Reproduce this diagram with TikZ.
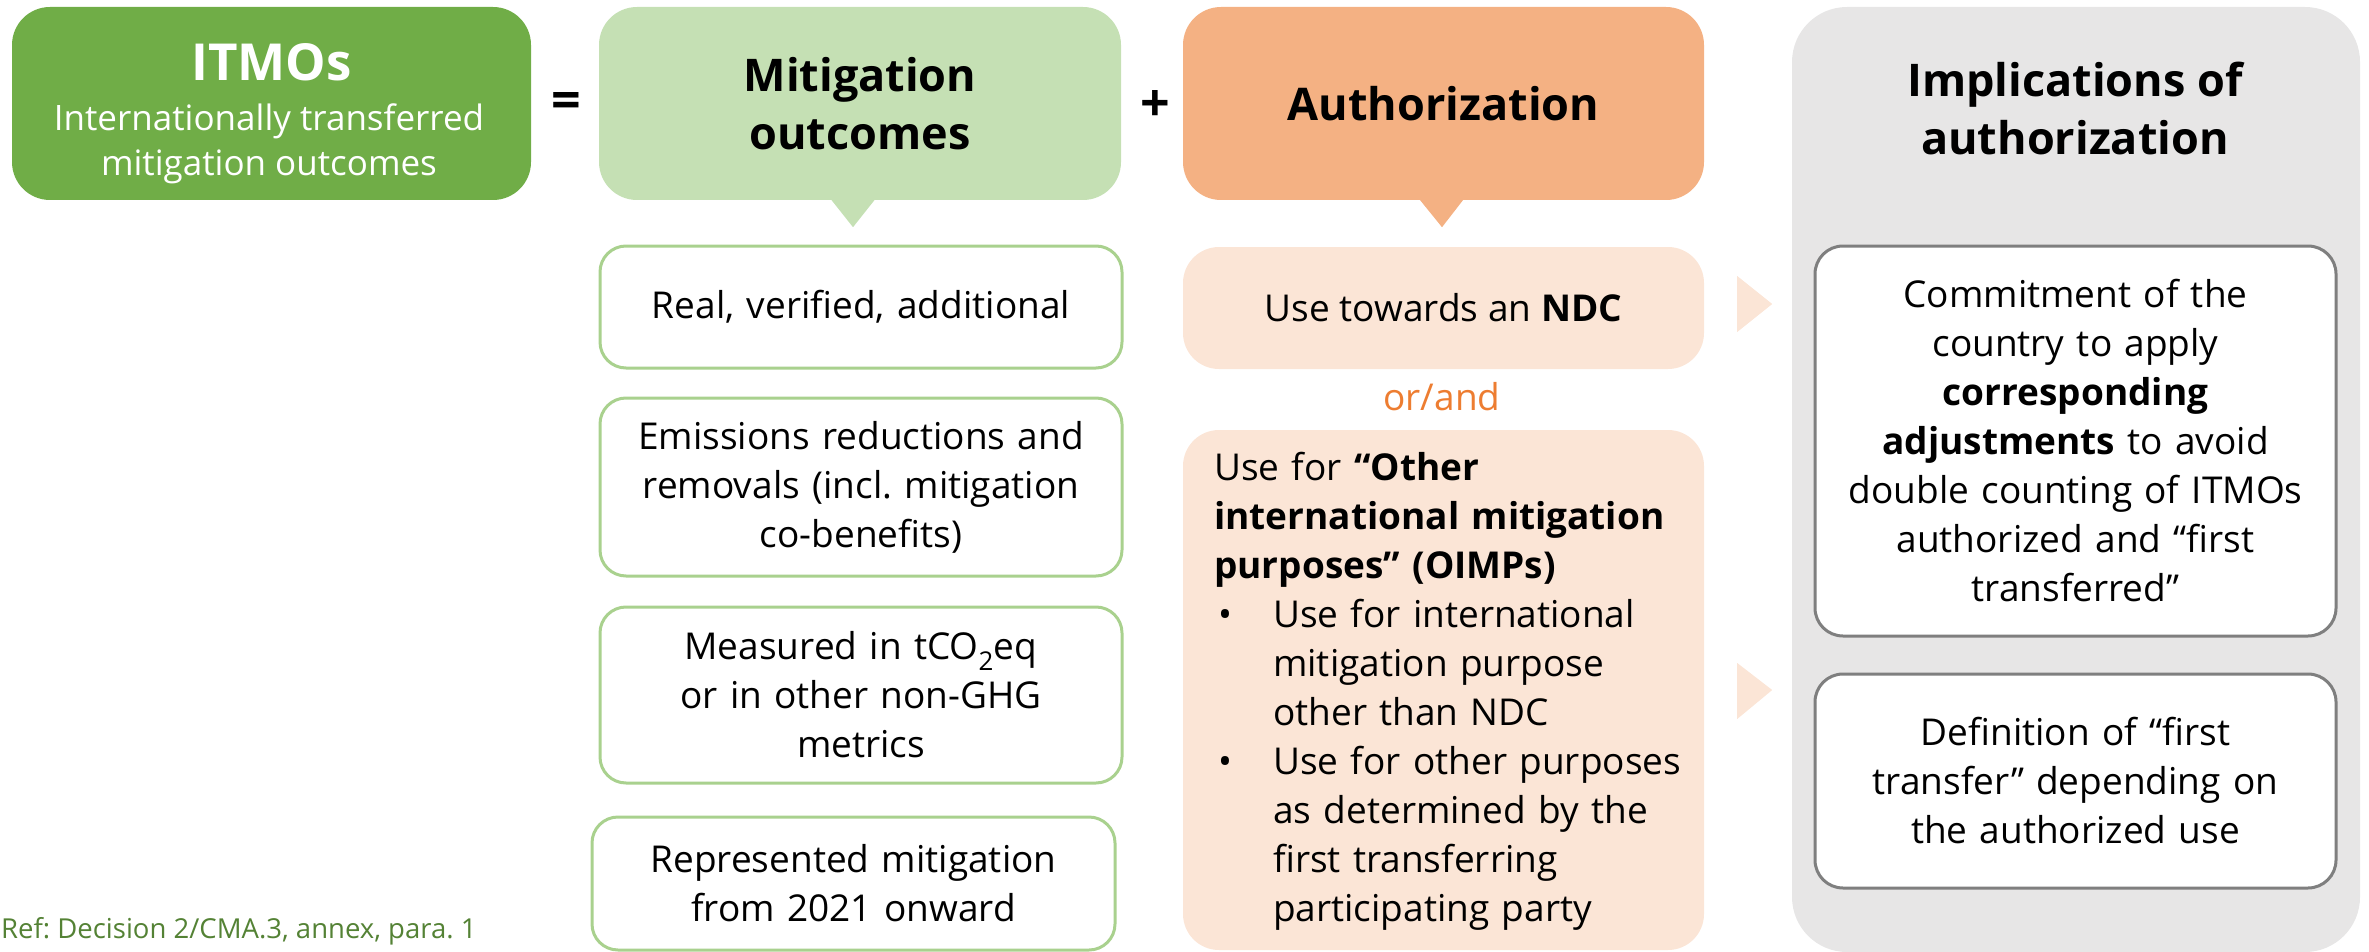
\documentclass[tikz,border=0pt]{standalone}
\usepackage{fontspec}
\setmainfont{Open Sans}
\usetikzlibrary{calc}
\frenchspacing
\definecolor{itmogreen}{HTML}{70AD47}
\definecolor{mitgreen}{HTML}{C5E0B4}
\definecolor{bordergreen}{HTML}{A9D18E}
\definecolor{authorange}{HTML}{F4B183}
\definecolor{lightorange}{HTML}{FBE5D6}
\definecolor{darkorange}{HTML}{ED7D31}
\definecolor{colgray}{HTML}{E7E6E6}
\definecolor{boxgray}{HTML}{7F7F7F}
\definecolor{refgreen}{HTML}{548235}
\newcommand{\bodyfnt}{\fontsize{37}{49}\selectfont}
\newcommand{\headfnt}{\fontsize{45}{58}\selectfont\bfseries}
\tikzset{
  topbox/.style={rectangle, rounded corners=38pt, inner sep=0pt, align=center, text=black},
  greenbox/.style={rectangle, rounded corners=26pt, draw=bordergreen, line width=3pt, fill=white, inner sep=0pt, align=center, text width=500pt, font=\bodyfnt},
  orangebox/.style={rectangle, rounded corners=36pt, fill=lightorange, inner sep=0pt},
  whitebox/.style={rectangle, rounded corners=28pt, draw=boxgray, line width=3pt, fill=white, inner sep=0pt, align=center, text width=500pt, font=\bodyfnt},
  chevron/.style={fill=lightorange}
}
\begin{document}
\begin{tikzpicture}[x=1pt,y=-1pt]
\useasboundingbox (0,0) rectangle (2369,952);
% gray column
\node[rectangle, rounded corners=55pt, fill=colgray, minimum width=568pt, minimum height=945pt, inner sep=0pt] (gray) at (2076,479.5) {};
\node[font=\headfnt, align=center] (impl) at (2075,109) {Implications of\\authorization};
% top boxes
\node[topbox, fill=itmogreen, minimum width=519pt, minimum height=193pt] (itmo) at (271.5,103.5) {};
\node[text=white, font=\fontsize{51}{60}\selectfont\bfseries] (itmotitle) at (271.5,62) {ITMOs};
\node[text=white, font=\fontsize{35}{45}\selectfont, align=center] (itmosub) at (269,144) {Internationally transferred\\mitigation outcomes};
\node[font=\fontsize{52}{60}\selectfont\bfseries] (eq) at (566,106) {=};
\node[topbox, fill=mitgreen, minimum width=522pt, minimum height=193pt, font=\headfnt] (mit) at (860,103.5) {Mitigation\\outcomes};
\fill[mitgreen] ($(mit.south)+(-30,-2)$) -- ($(mit.south)+(16,-2)$) -- ($(mit.south)+(-7,27)$) -- cycle;
\node[font=\fontsize{52}{60}\selectfont\bfseries] (plus) at (1155,106) {+};
\node[topbox, fill=authorange, minimum width=521pt, minimum height=193pt, font=\headfnt] (auth) at (1443.5,103.5) {Authorization};
\fill[authorange] ($(auth.south)+(-25,-2)$) -- ($(auth.south)+(21,-2)$) -- ($(auth.south)+(-1.5,27)$) -- cycle;
% mitigation outcome boxes
\node[greenbox, minimum width=522pt, minimum height=122pt] (real) at (861,307) {Real, verified, additional};
\node[greenbox, minimum width=522pt, minimum height=178pt] (emis) at (861,487) {Emissions reductions and\\removals (incl. mitigation\\co-benefits)};
\node[greenbox, minimum width=522pt, minimum height=176pt] (meas) at (861,695) {Measured in tCO\textsubscript{2}eq\\or in other non-GHG\\metrics};
\node[greenbox, minimum width=523pt, minimum height=133pt] (repr) at (853.5,883.5) {Represented mitigation\\from 2021 onward};
% authorization boxes
\node[orangebox, minimum width=521pt, minimum height=122pt, font=\bodyfnt] (ndc) at (1443.5,308) {Use towards an \textbf{NDC}};
\node[text=darkorange, font=\bodyfnt] (orand) at (1442,397) {or/and};
\node[orangebox, minimum width=521pt, minimum height=520pt] (oimp) at (1443.5,690) {};
\node[anchor=north west, inner sep=0pt, text width=480pt, align=left, font=\bodyfnt] (oimptext) at (1214,452)
{Use for \textbf{“Other}\\
\textbf{international mitigation}\\
\textbf{purposes” (OIMPs)}\\
\hspace*{4pt}\makebox[55pt][l]{•}Use for international\\
\hspace*{59pt}mitigation purpose\\
\hspace*{59pt}other than NDC\\
\hspace*{4pt}\makebox[55pt][l]{•}Use for other purposes\\
\hspace*{59pt}as determined by the\\
\hspace*{59pt}first transferring\\
\hspace*{59pt}participating party};
% chevrons
\fill[chevron] ($(ndc.east)+(33,-32)$) -- ($(ndc.east)+(68,-4)$) -- ($(ndc.east)+(33,24)$) -- cycle;
\fill[chevron] ($(oimp.east)+(33,-27)$) -- ($(oimp.east)+(68,0)$) -- ($(oimp.east)+(33,29)$) -- cycle;
% implication boxes
\node[whitebox, minimum width=521pt, minimum height=390pt] (commit) at (2075.5,441) {Commitment of the\\country to apply\\\textbf{corresponding}\\\textbf{adjustments} to avoid\\double counting of ITMOs\\authorized and “first\\transferred”};
\node[whitebox, minimum width=521pt, minimum height=214pt] (defn) at (2075.5,781) {Definition of “first\\transfer” depending on\\the authorized use};
% reference
\node[anchor=base west, text=refgreen, font=\fontsize{27.5}{32}\selectfont, inner sep=0pt] (ref) at (1,938) {Ref: Decision 2/CMA.3, annex, para. 1};
\end{tikzpicture}
\end{document}
